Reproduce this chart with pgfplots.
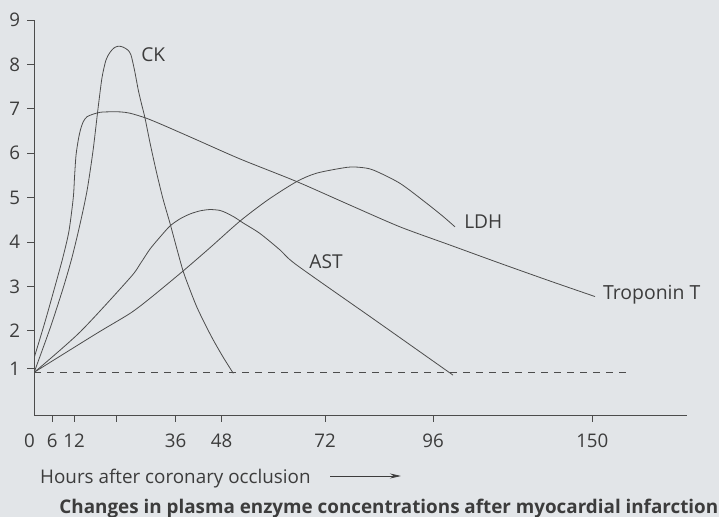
\documentclass[border=0pt]{standalone}
\usepackage{fontspec}
\setmainfont{Open Sans}
\usepackage{pgfplots}
\pgfplotsset{compat=1.18}
\usetikzlibrary{arrows.meta}
\definecolor{bg}{HTML}{E2E5E8}
\definecolor{ln}{HTML}{4C4C4C}
\definecolor{tx}{HTML}{3C3C3C}
\begin{document}
\begin{tikzpicture}[x=1bp,y=1bp]
\fill[bg] (0,0) rectangle (719,517);
\useasboundingbox (0,0) rectangle (719,517);
\begin{axis}[
  at={(34.4bp,102bp)}, anchor=south west,
  width=652.9bp, height=395bp, scale only axis,
  xmin=34.4, xmax=687.3, ymin=0.102, ymax=9,
  axis lines*=left,
  axis line style={ln, line width=0.8bp},
  tick align=outside,
  major tick length=7bp,
  tick style={ln, line width=0.8bp},
  ytick={1.15,2,3,4,5,6,7,8,9}, yticklabels={1,2,3,4,5,6,7,8,9},
  xtick={52.3,74,116,175.7,221.7,325,433,592.3},
  xticklabels={6,12,,36,48,72,96,150},
  extra x ticks={34.4}, extra x tick labels={0},
  extra x tick style={tick style={draw=none}, xticklabel style={xshift=-5bp}},
  tick label style={font=\fontsize{18.8}{20}\selectfont, text=tx},
  xticklabel style={anchor=north, inner sep=0pt, yshift=-12bp},
  yticklabel style={anchor=east, inner sep=0pt, xshift=-7bp},
  clip=false,
]
% dashed baseline
\addplot[ln, line width=0.7bp, dash pattern=on 7bp off 6bp] coordinates {(34.4,1.055)(631.7,1.055)};
% Troponin T
\addplot[ln, line width=0.8bp, smooth, tension=0.45] coordinates {
(34.4,1.41)(45,2.20)(55,3.00)(63,3.66)(69,4.25)(73.3,5.00)(74.5,5.45)(76,5.95)(78.3,6.30)(80.5,6.53)(83.3,6.71)(87,6.82)(93.3,6.88)(100,6.92)(106.7,6.93)(120,6.93)(130,6.90)(146,6.79)(163.3,6.63)(196.7,6.30)(240,5.87)(296.7,5.36)(350,4.83)(400,4.34)(450,3.93)(500,3.52)(550,3.12)(595,2.77)};
% CK
\addplot[ln, line width=0.8bp, smooth, tension=0.45] coordinates {
(34.6,1.09)(50,2.05)(63,2.95)(72,3.65)(80,4.40)(87,5.15)(93,6.05)(98,7.00)(102,7.70)(106,8.10)(110,8.27)(114,8.37)(118.3,8.41)(123,8.39)(128,8.32)(131,8.21)(134.5,7.87)(138.3,7.42)(141.5,7.11)(145,6.79)(150.5,6.18)(156.7,5.55)(163,4.97)(170,4.42)(176.7,3.86)(183.3,3.33)(190,2.92)(196.7,2.54)(205,2.15)(213.3,1.79)(223,1.41)(233.3,1.04)};
% AST
\addplot[ln, line width=0.8bp, smooth, tension=0.45] coordinates {
(34.6,1.07)(80,1.97)(130,3.19)(140,3.50)(150,3.84)(160,4.11)(170,4.36)(180,4.52)(190,4.63)(200,4.70)(210,4.73)(220,4.71)(226.7,4.65)(235,4.55)(243,4.43)(260,4.19)(280,3.82)(296.7,3.48)(375,2.24)(453,1.00)};
% LDH
\addplot[ln, line width=0.8bp, smooth, tension=0.45] coordinates {
(34.6,1.07)(96.7,1.94)(130,2.39)(150,2.73)(183.3,3.35)(210,3.87)(240,4.47)(268,4.95)(296.7,5.36)(316.7,5.55)(346.7,5.68)(360,5.68)(373.3,5.62)(400,5.32)(426.7,4.87)(443.3,4.57)(455,4.34)};
\end{axis}
\begin{scope}[every node/.style={text=tx, inner sep=0pt}]
\node[anchor=base, font=\fontsize{19.2}{21}\selectfont] at (153.3,455.3) {CK};
\node[anchor=base, font=\fontsize{19.2}{21}\selectfont] at (483.3,288.7) {LDH};
\node[anchor=base, font=\fontsize{19.2}{21}\selectfont] at (326,248.7) {AST};
\node[anchor=base, font=\fontsize{19.5}{21}\selectfont] at (651.7,217) {Troponin T};
\node[anchor=base west, font=\fontsize{18.9}{21}\selectfont] at (40,33.7) {Hours after coronary occlusion};
\node[anchor=base west, font=\fontsize{18.9}{21}\selectfont\bfseries] at (59.3,3.7) {Changes in plasma enzyme concentrations after myocardial infarction};
\end{scope}
\draw[tx, line width=0.8bp, -{Stealth[length=11bp,width=5bp]}] (330,41) -- (401,41);
\end{tikzpicture}
\end{document}
